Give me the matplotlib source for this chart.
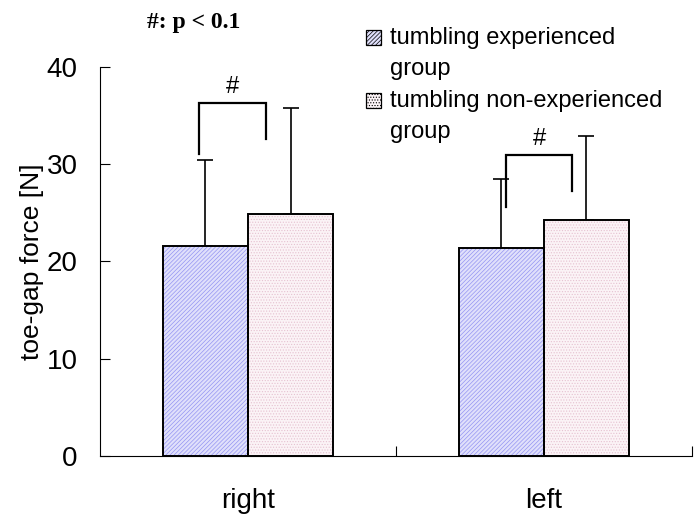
import numpy as np
import matplotlib.pyplot as plt
from matplotlib.patches import Rectangle
from matplotlib.ticker import FixedLocator

# toe-gap force, mean and SD per foot side
sides = ["right", "left"]
groups = ["tumbling experienced\ngroup", "tumbling non-experienced\ngroup"]
exp_mean = [21.6, 21.4]
exp_sd = [8.8, 7.1]
nonexp_mean = [24.9, 24.3]
nonexp_sd = [10.9, 8.6]

face_colors = ["#e0e0fb", "#fbf3f6"]
hatch_colors = ["#9494f2", "#e6c2d1"]
hatches = ["////////", "......"]

plt.rcParams["font.family"] = ["Liberation Sans", "DejaVu Sans"]
plt.rcParams["hatch.linewidth"] = 0.5

W, H = 696, 516
fig = plt.figure(figsize=(W / 100, H / 100), dpi=100)
ax = fig.add_axes([0.1437, 0.1163, 0.850, 0.7540])

x = np.arange(len(sides))
w = 0.288
series = [(exp_mean, exp_sd), (nonexp_mean, nonexp_sd)]
for i, (mean, sd) in enumerate(series):
    pos = x + (i - 0.5) * w
    plt.rcParams["hatch.color"] = hatch_colors[i]
    ax.bar(pos, mean, w, color=face_colors[i], hatch=hatches[i],
           edgecolor=hatch_colors[i], linewidth=0, zorder=2)
    ax.bar(pos, mean, w, fill=False, edgecolor="black", linewidth=1.4, zorder=3)
    ax.errorbar(pos, mean, yerr=[np.zeros(len(sd)), sd], fmt="none",
                ecolor="black", elinewidth=1.2, capsize=5.5, capthick=1.2, zorder=1)

# significance brackets (p < 0.1)
brackets = [
    # x_left, x_right, y_top, y_left_end, y_right_end
    (-0.165, 0.062, 36.3, 31.0, 32.6),
    (0.874, 1.097, 30.95, 25.6, 27.25),
]
for xl, xr, yt, yl, yr in brackets:
    ax.plot([xl, xl, xr, xr], [yl, yt, yt, yr], color="black", lw=1.6,
            solid_joinstyle="miter", zorder=4)
    ax.text((xl + xr) / 2, yt + 0.5, "#", ha="center", va="bottom", fontsize=17)

ax.set_xlim(-0.5, 1.5)
ax.set_ylim(0, 40)
ax.set_yticks([0, 10, 20, 30, 40])
ax.tick_params(axis="y", direction="in", length=7, width=0.8, pad=16, labelsize=20)
ax.set_xticks(x)
ax.set_xticklabels(sides)
ax.tick_params(axis="x", which="major", length=0, pad=23, labelsize=20)
ax.xaxis.set_minor_locator(FixedLocator([0.5, 1.5]))
ax.tick_params(axis="x", which="minor", direction="in", length=7, width=0.8)

for s in ["top", "right"]:
    ax.spines[s].set_visible(False)
for s in ["left", "bottom"]:
    ax.spines[s].set_linewidth(0.8)

ax.set_ylabel("toe-gap force [N]", fontsize=19, labelpad=2)

# legend drawn by hand: square key aligned with the first line of each label
key_x, key_size, text_x = 366, 15, 390
entry_top = [44, 107]  # baseline of first label line, pixels from top
line_step = 31
for i, label in enumerate(groups):
    base = entry_top[i]
    plt.rcParams["hatch.color"] = "#808080" if i == 0 else "#d0b0c0"
    fig.patches.append(Rectangle(
        (key_x / W, 1 - (base - 14 + key_size) / H), key_size / W, key_size / H,
        transform=fig.transFigure, facecolor=face_colors[i], hatch=hatches[i],
        edgecolor="black", linewidth=0.9))
    for j, line in enumerate(label.split("\n")):
        fig.text(text_x / W, 1 - (base + j * line_step) / H, line,
                 ha="left", va="baseline", fontsize=17)

fig.text(0.278, 0.957, "#: p < 0.1", ha="center", va="center", fontsize=17,
         fontweight="bold", family=["Liberation Serif", "DejaVu Serif"])

fig.savefig("out.png", dpi=100)
